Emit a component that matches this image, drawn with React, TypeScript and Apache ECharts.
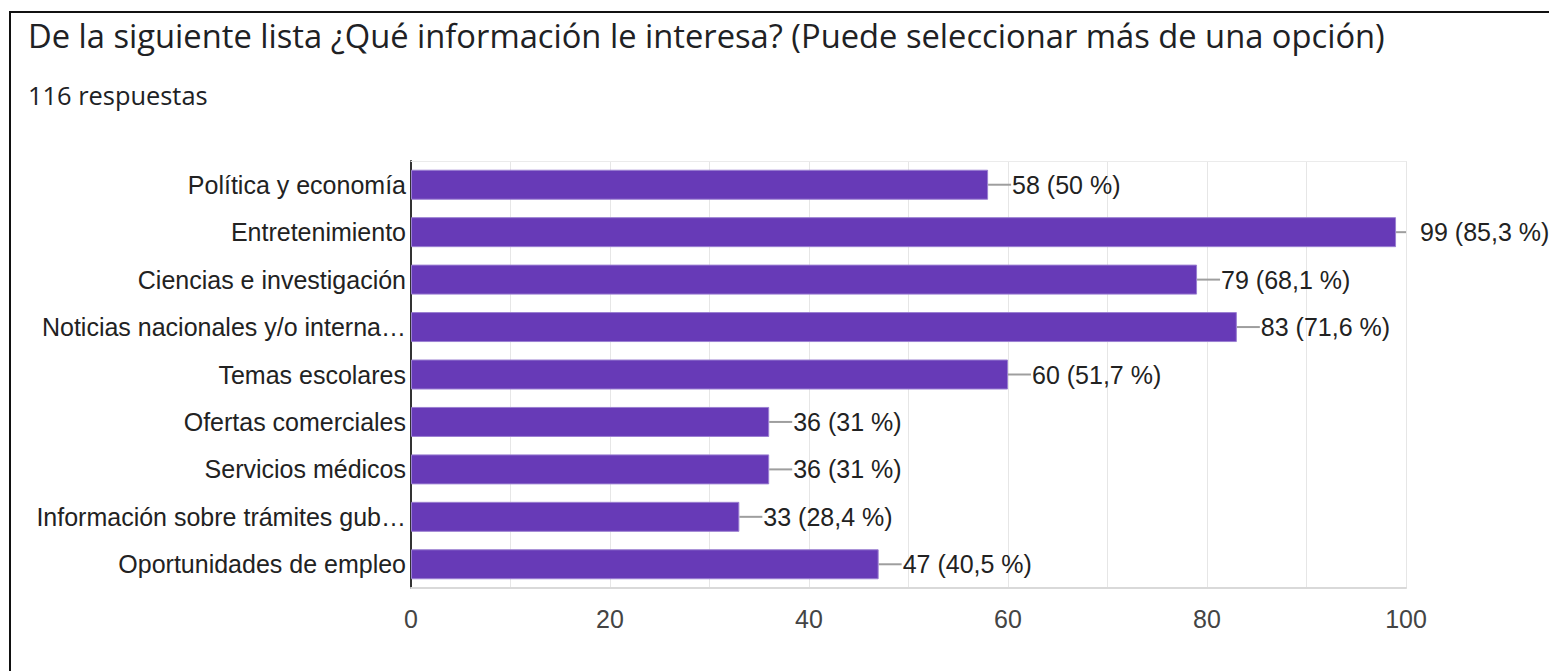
import React, { useEffect, useRef } from "react";
import * as echarts from "echarts";

const titleText =
  "De la siguiente lista ¿Qué información le interesa? (Puede seleccionar más de una opción)";
const subtitleText = "116 respuestas";

const categories = [
  "Política y economía",
  "Entretenimiento",
  "Ciencias e investigación",
  "Noticias nacionales y/o interna…",
  "Temas escolares",
  "Ofertas comerciales",
  "Servicios médicos",
  "Información sobre trámites gub…",
  "Oportunidades de empleo",
];
const counts = [58, 99, 79, 83, 60, 36, 36, 33, 47];
const percents = ["50", "85,3", "68,1", "71,6", "51,7", "31", "31", "28,4", "40,5"];
const xTicks = [0, 20, 40, 60, 80, 100];

const SANS = "'Liberation Sans', Arial, sans-serif";
const TITLE_FONT = "'Open Sans', Roboto, sans-serif";

export default function App() {
  const ref = useRef<HTMLDivElement>(null);

  useEffect(() => {
    document.body.style.margin = "0";
    if (!ref.current) return;
    const chart = echarts.init(ref.current, undefined, { renderer: "svg" });

    const option: any = {
      animation: false,
      backgroundColor: "#ffffff",
      graphic: [
        {
          type: "rect",
          shape: { x: 10, y: 12, width: 1600, height: 800 },
          style: { fill: "none", stroke: "#111111", lineWidth: 2 },
          silent: true,
        },
        {
          type: "text",
          x: 28,
          y: 35,
          style: {
            text: titleText,
            font: `400 32.7px ${TITLE_FONT}`,
            fill: "#202124",
            verticalAlign: "middle",
          },
        },
        {
          type: "text",
          x: 28,
          y: 95,
          style: {
            text: subtitleText,
            font: `400 25.4px ${TITLE_FONT}`,
            fill: "#202124",
            verticalAlign: "middle",
          },
        },
      ],
      grid: { left: 411, right: 143, top: 161, bottom: 83, containLabel: false },
      xAxis: [
        {
          type: "value",
          min: 0,
          max: 100,
          interval: 10,
          axisLine: { show: true, lineStyle: { color: "#d9d9d9", width: 2 } },
          axisTick: { show: false },
          splitLine: { show: true, lineStyle: { color: "#e6e6e6", width: 1 } },
          axisLabel: {
            margin: 18,
            fontSize: 25,
            fontFamily: SANS,
            color: "#444444",
            formatter: (v: number) => (xTicks.indexOf(v) >= 0 ? String(v) : ""),
          },
        },
        {
          type: "value",
          position: "top",
          min: 0,
          max: 100,
          axisLine: { show: true, lineStyle: { color: "#ebebeb", width: 1 } },
          axisTick: { show: false },
          axisLabel: { show: false },
          splitLine: { show: false },
        },
      ],
      yAxis: {
        type: "category",
        data: categories,
        inverse: true,
        axisLine: { show: true, lineStyle: { color: "#333333", width: 2 } },
        axisTick: { show: false },
        axisLabel: {
          margin: 5,
          fontSize: 25,
          fontFamily: SANS,
          color: "#222222",
        },
      },
      series: [
        {
          type: "bar",
          xAxisIndex: 0,
          data: counts,
          barWidth: 30,
          itemStyle: { color: "#673ab7", borderColor: "#9a7fd1", borderWidth: 1 },
          label: {
            show: true,
            position: "right",
            distance: 24,
            fontSize: 25,
            fontFamily: SANS,
            color: "#222222",
            formatter: (p: any) => `${counts[p.dataIndex]} (${percents[p.dataIndex]} %)`,
          },
          z: 3,
        },
        {
          type: "custom",
          xAxisIndex: 0,
          clip: true,
          silent: true,
          data: counts.map((c, i) => [c, i]),
          renderItem: (params: any, api: any) => {
            const p = api.coord([api.value(0), api.value(1)]);
            return {
              type: "line",
              shape: { x1: p[0], y1: p[1], x2: p[0] + 23, y2: p[1] },
              style: { stroke: "#9e9e9e", lineWidth: 2 },
            };
          },
          z: 2,
        },
      ],
    };

    chart.setOption(option);
    return () => chart.dispose();
  }, []);

  return <div ref={ref} style={{ width: 1549, height: 671 }} />;
}
